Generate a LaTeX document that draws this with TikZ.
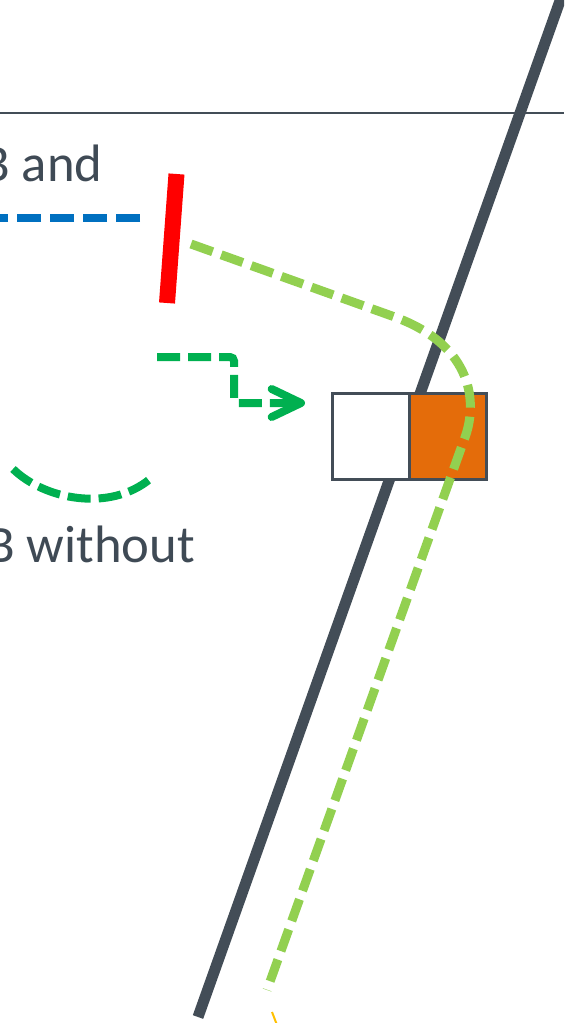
\documentclass[tikz,border=0pt]{standalone}
\usepackage{fontspec}
\setmainfont{Carlito}
\usetikzlibrary{arrows.meta}
\definecolor{dk}{HTML}{434D57}
\definecolor{txt}{HTML}{3F4A55}
\definecolor{blu}{HTML}{0070C0}
\definecolor{lgr}{HTML}{92D050}
\definecolor{grn}{HTML}{00B050}
\definecolor{org}{HTML}{E46C0A}
\definecolor{yel}{HTML}{FFC000}
\tikzset{
  lbl/.style={anchor=base west, inner sep=0pt, text=txt, font=\fontsize{39.5pt}{47pt}\selectfont},
  cell/.style={draw=dk, line width=2pt, minimum width=57.75pt, minimum height=64.5pt, inner sep=0pt, anchor=north west},
  bluedash/.style={draw=blu, line width=6pt, dash pattern=on 18pt off 6.75pt},
  lgdash/.style={draw=lgr, line width=6.75pt, dash pattern=on 17.25pt off 6.75pt},
  gdash/.style={draw=grn, line width=6pt, dash pattern=on 17.25pt off 6pt},
}
\begin{document}
\begin{tikzpicture}[x=0.75pt,y=-0.75pt]
\useasboundingbox (0,0) rectangle (564,1023);
\clip (0,0) rectangle (564,1023);
% coordinates
\coordinate (hl) at (0,113);
\coordinate (hr) at (564,113);
\coordinate (dt) at (561,-2);
\coordinate (db) at (198,1017);
% horizontal rule
\draw[dk, line width=2.2pt] (hl) -- (hr);
% thick dark slanted line
\draw[dk, line width=8.25pt] (dt) -- (db);
% texts
\node[lbl] (t1) at (-19,182) {B and};
\node[lbl] (t2) at (-14,562) {B without};
% blue dashed
\coordinate (b1) at (0,218);
\coordinate (b2) at (140,218);
\draw[bluedash] (b2) -- (b1);
% red bar
\coordinate (r1) at (176.5,174);
\coordinate (r2) at (167,303);
\draw[red, line width=12pt] (r1) -- (r2);
% boxes
\node[cell, fill=white] (wb) at (331,392) {};
\node[cell, fill=org] (ob) at (408,392) {};
% green arrow
\coordinate (g1) at (157,357);
\coordinate (g2) at (234,357);
\coordinate (g3) at (234,403);
\coordinate (g4) at (305,403);
\draw[gdash, rounded corners=3pt, -{Straight Barb[length=22pt,width=21pt,line cap=round,line join=round]}] (g1) -- (g2) -- (g3) -- (g4);
% green arc
\coordinate (a1) at (13,469);
\coordinate (a2) at (150,479);
\draw[gdash] (a1) .. controls (45,500) and (110,512) .. (a2);
% light green path
\coordinate (l1) at (191,244);
\coordinate (l2) at (392,316);
\coordinate (l3) at (464,440);
\coordinate (l4) at (267,990);
\draw[lgdash] (l1) -- (l2) .. controls (475,345) and (478,405) .. (l3) -- (l4);
% small yellow mark
\coordinate (y1) at (272,1012);
\coordinate (y2) at (277,1025);
\draw[yel, line width=1.5pt] (y1) -- (y2);
\end{tikzpicture}
\end{document}
